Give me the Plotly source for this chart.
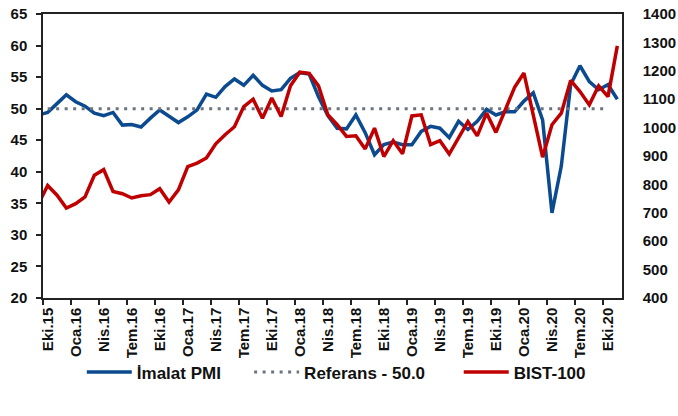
import plotly.graph_objects as go

# monthly data, Sep 2015 .. Nov 2020 (Sep 2015 sits just left of the axis and gets clipped)
pmi = [49.0, 49.4, 50.8, 52.2, 51.1, 50.4, 49.3, 48.9, 49.4, 47.4, 47.5, 47.1,
       48.5, 49.8, 48.8, 47.8, 48.7, 49.8, 52.3, 51.8, 53.5, 54.7, 53.7, 55.3,
       53.7, 52.8, 53.0, 54.8, 55.7, 55.5, 51.9, 48.9, 46.9, 46.8, 49.0, 46.2,
       42.7, 44.3, 44.7, 44.3, 44.3, 46.4, 47.2, 46.9, 45.4, 48.0, 46.7, 48.0,
       49.9, 49.0, 49.5, 49.5, 51.2, 52.5, 48.2, 33.5, 40.9, 53.8, 56.8, 54.3,
       53.0, 53.8, 51.5]

bist = [730, 796, 762, 717, 732, 756, 832, 852, 775, 767, 752, 760,
        764, 785, 738, 781, 863, 875, 893, 943, 975, 1003, 1074, 1100,
        1033, 1104, 1039, 1147, 1195, 1191, 1147, 1045, 1010, 969, 971, 925,
        998, 898, 954, 908, 1041, 1045, 940, 954, 907, 965, 1021, 971,
        1051, 983, 1063, 1142, 1192, 1039, 896, 1010, 1051, 1166, 1127, 1080,
        1147, 1109, 1288]

# reference line only runs Oct 2015 .. Oct 2020
referans = [50.0] * 61

tick_labels = ["Eki.15", "Oca.16", "Nis.16", "Tem.16", "Eki.16", "Oca.17", "Nis.17",
               "Tem.17", "Eki.17", "Oca.18", "Nis.18", "Tem.18", "Eki.18", "Oca.19",
               "Nis.19", "Tem.19", "Eki.19", "Oca.20", "Nis.20", "Tem.20", "Eki.20"]

x_all = list(range(-1, len(pmi) - 1))
x_ref = list(range(len(referans)))
tick_pos = list(range(0, 3 * len(tick_labels), 3))
tick_bnd = [p - 0.5 for p in tick_pos]

BLUE = "#0B4A8F"
RED = "#C00000"
GRAY = "#6B737D"
FONT = "Liberation Sans, Arial, sans-serif"
bold = dict(family=FONT, size=15, color="#111111", weight="bold")
leg_font = dict(family=FONT, size=17, color="#111111", weight="bold")


def leg(x):
    # one legend per series so the spacing can follow the original
    return dict(orientation="h", x=x, xanchor="left", y=-0.262, yanchor="middle",
                bgcolor="rgba(0,0,0,0)", font=leg_font, itemwidth=45)


fig = go.Figure()
fig.add_trace(go.Scatter(x=x_all, y=pmi, mode="lines", name="İmalat PMI",
                         line=dict(color=BLUE, width=3.5), legend="legend"))
fig.add_trace(go.Scatter(x=x_ref, y=referans, mode="lines", name="Referans - 50.0",
                         line=dict(color=GRAY, width=3, dash="3px,5.5px"), legend="legend2"))
fig.add_trace(go.Scatter(x=x_all, y=bist, mode="lines", name="BIST-100",
                         line=dict(color=RED, width=3.5), yaxis="y2", legend="legend3"))

fig.update_layout(
    width=678, height=416,
    margin=dict(l=43, r=56, t=14, b=118),
    paper_bgcolor="white", plot_bgcolor="white",
    font=bold,
    showlegend=True,
    legend=leg(0.067),
    legend2=leg(0.356),
    legend3=leg(0.718),
    xaxis=dict(range=[-0.5, 61.5], tickmode="array", tickvals=tick_pos, ticktext=tick_labels,
               tickangle=-90, ticks="", showgrid=False, zeroline=False, automargin=False,
               showline=True, linecolor="#222222", linewidth=1.5, mirror=True,
               tickfont=bold, ticklabelstandoff=2,
               minor=dict(tickmode="array", tickvals=tick_bnd, ticks="outside",
                          ticklen=5, tickwidth=1.5, tickcolor="#222222", showgrid=False)),
    yaxis=dict(range=[20, 65], dtick=5, ticks="outside", ticklen=5, tickwidth=1.5,
               tickcolor="#222222", showgrid=False, zeroline=False, automargin=False,
               showline=True, linecolor="#222222", linewidth=1.5,
               tickfont=bold, ticklabelstandoff=6, ticklabeloverflow="allow"),
    yaxis2=dict(range=[400, 1400], dtick=100, overlaying="y", side="right",
                ticks="", showgrid=False, zeroline=False, automargin=False,
                showline=True, linecolor="#222222", linewidth=1.5,
                tickfont=bold, ticklabelstandoff=16, ticklabeloverflow="allow"),
)

# drop the default 8px page margin so the figure sits at the window's corner
fig.write_html("out.html", config={"displayModeBar": False},
               post_script="document.body.style.margin = '0px';")
